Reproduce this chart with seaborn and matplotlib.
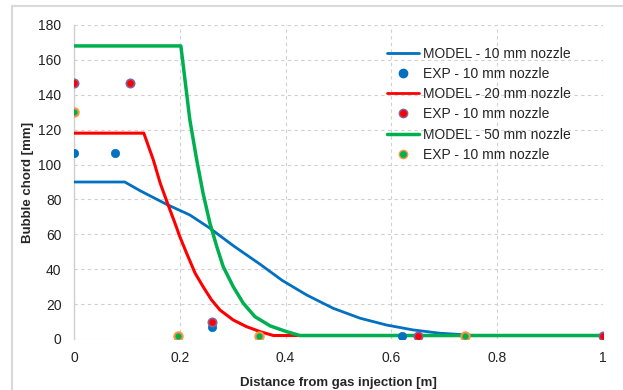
import matplotlib
matplotlib.use("Agg")
import matplotlib.pyplot as plt
import matplotlib.lines as mlines
import seaborn as sns

# ---- data ----
model10_x = [0, 0.096, 0.125, 0.175, 0.219, 0.257, 0.301, 0.352, 0.394, 0.440,
             0.490, 0.541, 0.591, 0.641, 0.692, 0.730, 0.74, 1.0]
model10_y = [90, 90, 85, 77.2, 71.1, 63.5, 53.5, 42.8, 33.5, 25.2,
             17.6, 11.9, 8, 5.2, 3.3, 2.6, 2, 2]

model20_x = [0, 0.132, 0.150, 0.163, 0.178, 0.191, 0.200, 0.213, 0.229, 0.244,
             0.260, 0.276, 0.301, 0.326, 0.352, 0.377, 1.0]
model20_y = [118, 118, 102.6, 89.3, 76.8, 66.3, 58.7, 49.1, 37.7, 30,
             22.4, 16.6, 10.9, 7.1, 4.2, 2, 2]

model50_x = [0, 0.202, 0.219, 0.232, 0.244, 0.257, 0.270, 0.282, 0.301, 0.320,
             0.342, 0.371, 0.402, 0.427, 1.0]
model50_y = [168, 168, 125.6, 102.6, 83.5, 66.3, 52.9, 41.5, 30, 20.5,
             12.8, 7.5, 4.2, 2, 2]

exp10_x = [0, 0.077, 0.26, 0.62]
exp10_y = [106.5, 106.5, 7, 2]
exp20_x = [0, 0.106, 0.26, 0.65, 1.0]
exp20_y = [147, 147, 10, 2, 2]
exp50_x = [0, 0.197, 0.35, 0.74]
exp50_y = [130, 2, 2, 2]

labels = ["MODEL - 10 mm nozzle", "EXP - 10 mm nozzle",
          "MODEL - 20 mm nozzle", "EXP - 10 mm nozzle",
          "MODEL - 50 mm nozzle", "EXP - 10 mm nozzle"]

x_ticks = [0, 0.2, 0.4, 0.6, 0.8, 1.0]
x_ticklabels = ["0", "0.2", "0.4", "0.6", "0.8", "1"]
y_ticks = list(range(0, 181, 20))

BLUE = "#0070C0"
RED = "#FF0000"
GREEN = "#00B050"

sns.set_style("white")
plt.rcParams["font.family"] = ["Liberation Sans", "DejaVu Sans"]

fig = plt.figure(figsize=(6.23, 3.9), dpi=100)
ax = fig.add_axes([74 / 623, 51 / 390, 529 / 623, 314 / 390])

sns.lineplot(x=model10_x, y=model10_y, ax=ax, color=BLUE, lw=2, zorder=3)
sns.lineplot(x=model20_x, y=model20_y, ax=ax, color=RED, lw=2.2, zorder=3)
sns.lineplot(x=model50_x, y=model50_y, ax=ax, color=GREEN, lw=2.5, zorder=3)

sns.scatterplot(x=exp10_x, y=exp10_y, ax=ax, color=BLUE, s=36, edgecolor=BLUE, linewidth=0.5, zorder=4)
sns.scatterplot(x=exp20_x, y=exp20_y, ax=ax, color=RED, s=36, edgecolor="#8064A2", linewidth=1.2, zorder=5)
sns.scatterplot(x=exp50_x, y=exp50_y, ax=ax, color=GREEN, s=36, edgecolor="#F79646", linewidth=1.5, zorder=5)

ax.set_xlim(0, 1)
ax.set_ylim(0, 180)
ax.set_xticks(x_ticks)
ax.set_xticklabels(x_ticklabels)
ax.set_yticks(y_ticks)
ax.tick_params(axis="both", length=0, labelsize=10, colors="#222222")
ax.tick_params(axis="y", pad=9)
ax.tick_params(axis="x", pad=9)
ax.grid(True, ls=(0, (3, 3)), color="#D0D0D0", lw=0.8)
ax.set_axisbelow(True)
for s in ["top", "right", "bottom"]:
    ax.spines[s].set_visible(False)
ax.spines["left"].set_color("#D0D0D0")
ax.spines["left"].set_linewidth(1)

ax.set_xlabel("Distance from gas injection [m]", fontsize=9.5, fontweight="bold", labelpad=8)
ax.set_ylabel("Bubble chord [mm]", fontsize=9.5, fontweight="bold")
ax.yaxis.set_label_coords(-0.076, 0.5)

handles = [
    mlines.Line2D([], [], color=BLUE, lw=2),
    mlines.Line2D([], [], color=BLUE, marker="o", ls="none", markersize=6, markeredgecolor=BLUE),
    mlines.Line2D([], [], color=RED, lw=2),
    mlines.Line2D([], [], color=RED, marker="o", ls="none", markersize=6, markeredgecolor="#8064A2"),
    mlines.Line2D([], [], color=GREEN, lw=2.5),
    mlines.Line2D([], [], color=GREEN, marker="o", ls="none", markersize=6, markeredgecolor="#F79646"),
]
leg = ax.legend(handles, labels, loc="upper left", bbox_to_anchor=(0.581, 0.949),
                frameon=False, fontsize=10, handlelength=2.3, handletextpad=0.3,
                labelspacing=0.45, borderaxespad=0)

# outer chart-area frame
fig.add_artist(mlines.Line2D([12 / 623, 1], [1 - 6 / 390, 1 - 6 / 390], color="#D9D9D9", lw=1.5))
fig.add_artist(mlines.Line2D([12 / 623, 12 / 623], [0, 1 - 6 / 390], color="#D9D9D9", lw=1.5))

fig.savefig("out.png", dpi=100)
